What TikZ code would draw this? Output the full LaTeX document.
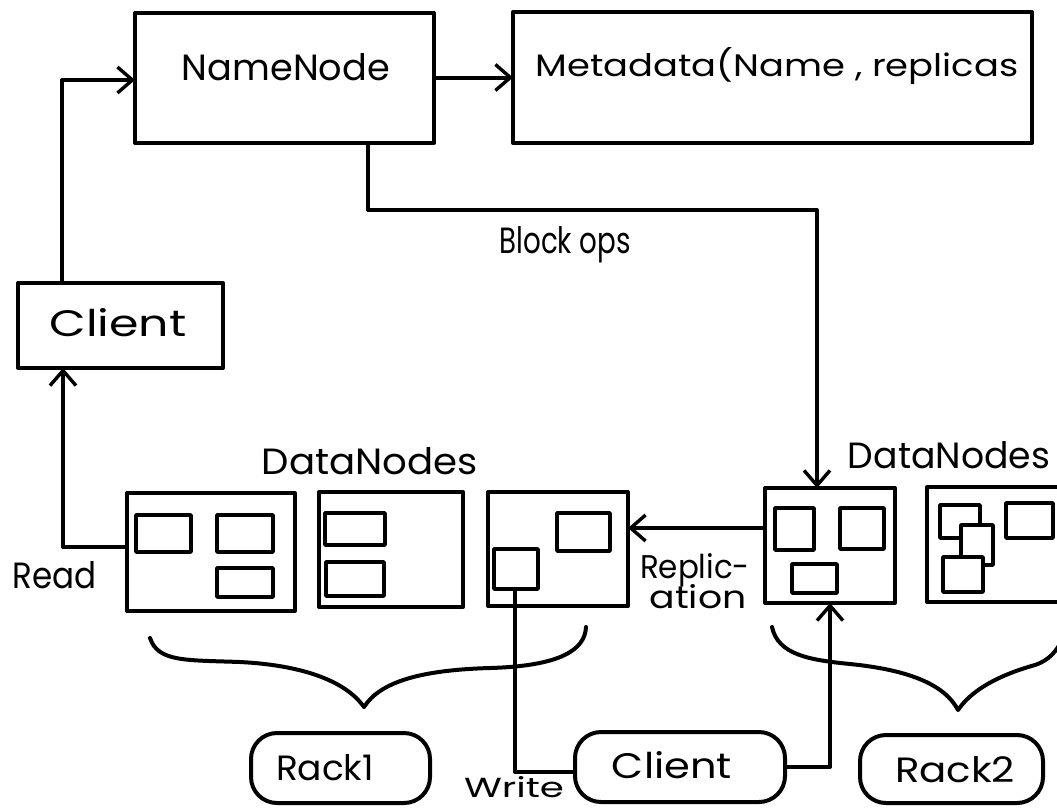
\documentclass[tikz,border=0pt]{standalone}
\usepackage{fontspec}
\setmainfont{Poppins}
\usetikzlibrary{arrows.meta}
\newcommand\boxat[6][]{\node[boxst,#1,minimum width={#5-#3},minimum height={#6-#4}] (#2) at ({(#3+#5)/2},{(#4+#6)/2}) {};}
% name, (x,baseline), width, height, text
\newcommand\lblat[5]{\node[lbl] (#1) at (#2) {\resizebox{#3pt}{#4pt}{#5}};}
\begin{document}
\begin{tikzpicture}[x=1pt,y=-1pt,line join=round,
  boxst/.style={draw,line width=4pt,inner sep=0pt,outer sep=0pt},
  innerbox/.style={line width=3.6pt,fill=white},
  pill/.style={rounded corners=26pt},
  lbl/.style={inner sep=0pt,outer sep=0pt,anchor=base},
  conn/.style={line width=4pt},
  arr/.style={conn,-{Straight Barb[length=15pt,width=26pt,line width=3.4pt]}},
  brace/.style={line width=4pt,line cap=round}]
\useasboundingbox (0,0) rectangle (1057,807);
\fill[white] (0,0) rectangle (1057,807);
% top boxes
\boxat{nn}{135}{13}{434}{143}
\boxat{meta}{513}{12}{1032}{143}
\lblat{nnt}{286,80}{208}{27}{NameNode}
\lblat{metat}{777,76}{483}{29}{Metadata(Name , replicas}
% client
\boxat{client}{18}{283}{223}{368}
\lblat{clientt}{118,336}{137}{28}{Client}
% data nodes rack 1
\boxat{dn1}{127}{493}{295}{611}
\boxat[innerbox]{d1a}{136}{515}{191}{552}
\boxat[innerbox]{d1b}{217}{515}{273}{552}
\boxat[innerbox]{d1c}{217}{568}{273}{597}
\boxat{dn2}{319}{492}{463}{607}
\boxat[innerbox]{d2a}{325}{513}{385}{545}
\boxat[innerbox]{d2b}{326}{562}{384}{596}
\boxat{dn3}{488}{492}{628}{606}
\boxat[innerbox]{d3a}{557}{513}{610}{551}
\boxat[innerbox]{d3b}{494}{549}{538}{589}
% data nodes rack 2
\boxat{dn4}{765}{488}{895}{603}
\boxat[innerbox]{d4a}{775}{508}{814}{550}
\boxat[innerbox]{d4b}{840}{508}{884}{549}
\boxat[innerbox]{d4c}{792}{564}{837}{593}
\boxat{dn5}{927}{487}{1075}{602}
\boxat[innerbox]{d5a}{940}{505}{980}{538}
\boxat[innerbox]{d5b}{961}{525}{993}{565}
\boxat[innerbox]{d5c}{943}{557}{983}{592}
\boxat[innerbox]{d5d}{1006}{503}{1053}{538}
% labels
\lblat{blk}{565,253}{131}{27}{Block ops}
\lblat{dnl1}{370,474}{216}{27}{DataNodes}
\lblat{dnl2}{949,468}{202}{27}{DataNodes}
\lblat{read}{55,588}{84}{27}{Read}
\lblat{rep1}{695,578}{110}{25}{Replic-}
\lblat{rep2}{698,608}{97}{24}{ation}
\lblat{write}{514,797}{100}{21}{Write}
% bottom pills
\boxat[pill]{cl2}{575}{732}{785}{802}
\lblat{cl2t}{672,778}{120}{27}{Client}
\boxat[pill]{rk1}{251}{733}{430}{803}
\lblat{rk1t}{325,780}{98}{26}{Rack1}
\boxat[pill]{rk2}{860}{735}{1043}{803}
\lblat{rk2t}{955,782}{120}{26}{Rack2}
% braces
\draw[brace] (150,638) .. controls (158,662) and (185,660) .. (240,662)
  .. controls (300,665) and (345,680) .. (364,707)
  .. controls (380,682) and (420,670) .. (490,668)
  .. controls (560,666) and (585,650) .. (586,627);
\draw[brace] (772,627) .. controls (778,655) and (810,660) .. (850,664)
  .. controls (910,670) and (945,685) .. (958,710)
  .. controls (975,685) and (1010,672) .. (1035,665)
  .. controls (1050,660) and (1057,650) .. (1062,640);
% connectors
\coordinate (c1) at (62,80);
\draw[arr] (client.north -| c1) -- (c1) -- (nn.west |- c1);
\draw[arr] (nn.east |- meta.west) -- (meta.west);
\coordinate (b1) at (368,210);
\coordinate (b2) at (817,210);
\draw[arr] (nn.south -| b1) -- (b1) -- (b2) -- (dn4.north -| b2);
\coordinate (rd) at (63,547);
\draw[arr] (dn1.west |- rd) -- (rd) -- (client.south -| rd);
\coordinate (rp) at (767,528);
\draw[arr] (dn4.west |- rp) -- (dn3.east |- rp);
\coordinate (wr) at (515,772);
\draw[conn] (d3b.south -| wr) -- (wr) -- (cl2.west |- wr);
\coordinate (cr) at (830,767);
\draw[arr] (cl2.east |- cr) -- (cr) -- (dn4.south -| cr);
\end{tikzpicture}
\end{document}
